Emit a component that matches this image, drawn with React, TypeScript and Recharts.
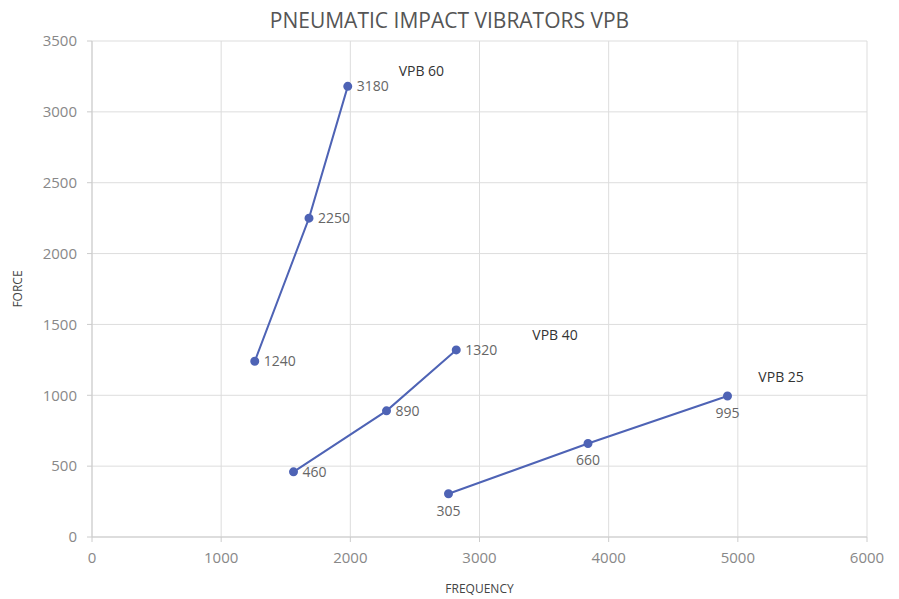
import { LineChart, Line, XAxis, YAxis, CartesianGrid, LabelList, ReferenceDot } from 'recharts';

const xTicks = [0, 1000, 2000, 3000, 4000, 5000, 6000];
const yTicks = [0, 500, 1000, 1500, 2000, 2500, 3000, 3500];

const vpb60 = [
  { frequency: 1260, force: 1240 },
  { frequency: 1680, force: 2250 },
  { frequency: 1980, force: 3180 },
];
const vpb40 = [
  { frequency: 1560, force: 460 },
  { frequency: 2280, force: 890 },
  { frequency: 2820, force: 1320 },
];
const vpb25 = [
  { frequency: 2760, force: 305 },
  { frequency: 3840, force: 660 },
  { frequency: 4920, force: 995 },
];

// where the series names sit, in data units
const seriesNames = [
  { name: 'VPB 60', frequency: 2550, force: 3290 },
  { name: 'VPB 40', frequency: 3585, force: 1425 },
  { name: 'VPB 25', frequency: 5335, force: 1130 },
];

const FONT = '"Open Sans", sans-serif';
const LINE = '#4e63b5';
const tickStyle = { fontSize: 15, fill: '#888', fontFamily: FONT };
const valueStyle = { fontSize: 14, fill: '#666', fontFamily: FONT };

export default function App() {
  return (
    <div style={{ position: 'absolute', left: 0, top: 0, width: 899, height: 599, background: '#fff', fontFamily: FONT }}>
      <div style={{ position: 'absolute', top: 6, width: 899, textAlign: 'center', fontSize: 21, color: '#555' }}>
        PNEUMATIC IMPACT VIBRATORS VPB
      </div>
      <LineChart width={899} height={599} margin={{ top: 41, right: 32, bottom: 0, left: 0 }}>
        <CartesianGrid stroke="#ddd" />
        <XAxis
          type="number"
          dataKey="frequency"
          domain={[0, 6000]}
          ticks={xTicks}
          height={62}
          stroke="#ccc"
          tickSize={5}
          tickMargin={10}
          tick={tickStyle}
          label={{ value: 'FREQUENCY', position: 'insideBottom', offset: 6, style: { fontSize: 12, fill: '#444', fontFamily: FONT } }}
        />
        <YAxis
          type="number"
          dataKey="force"
          domain={[0, 3500]}
          ticks={yTicks}
          width={92}
          stroke="#ccc"
          tickSize={5}
          tickMargin={10}
          tick={tickStyle}
          label={{ value: 'FORCE', angle: -90, position: 'insideLeft', offset: 18, style: { fontSize: 12, fill: '#444', fontFamily: FONT, textAnchor: 'middle' } }}
        />
        <Line data={vpb60} dataKey="force" stroke={LINE} strokeWidth={2} dot={{ r: 3.5, fill: LINE, stroke: LINE }} isAnimationActive={false}>
          <LabelList dataKey="force" position="right" offset={9} style={valueStyle} />
        </Line>
        <Line data={vpb40} dataKey="force" stroke={LINE} strokeWidth={2} dot={{ r: 3.5, fill: LINE, stroke: LINE }} isAnimationActive={false}>
          <LabelList dataKey="force" position="right" offset={9} style={valueStyle} />
        </Line>
        <Line data={vpb25} dataKey="force" stroke={LINE} strokeWidth={2} dot={{ r: 3.5, fill: LINE, stroke: LINE }} isAnimationActive={false}>
          <LabelList dataKey="force" position="bottom" offset={12} style={valueStyle} />
        </Line>
        {seriesNames.map((s) => (
          <ReferenceDot
            key={s.name}
            x={s.frequency}
            y={s.force}
            r={0}
            stroke="none"
            label={{ value: s.name, position: 'center', style: { fontSize: 14, fill: '#333', fontFamily: FONT } }}
          />
        ))}
      </LineChart>
    </div>
  );
}
